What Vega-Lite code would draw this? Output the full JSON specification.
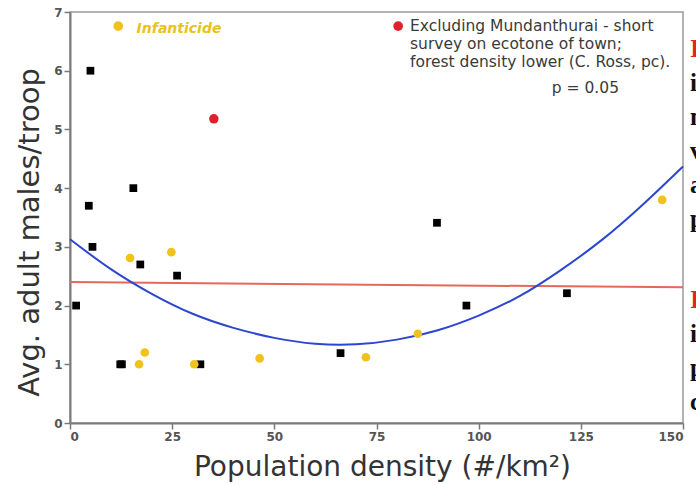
{
  "$schema": "https://vega.github.io/schema/vega-lite/v6.json",
  "width": 613,
  "height": 411,
  "autosize": {"type": "none"},
  "padding": {"left": 70, "top": 12, "right": 13, "bottom": 62},
  "background": "white",
  "config": {
    "view": {"stroke": "#9a9a9a", "strokeWidth": 1.5},
    "axis": {
      "grid": false,
      "domainColor": "#7a7a7a",
      "domainWidth": 2,
      "tickColor": "#7a7a7a",
      "tickWidth": 1.5,
      "tickSize": 6,
      "labelFont": "DejaVu Sans",
      "labelFontSize": 12,
      "labelFontWeight": "bold",
      "labelColor": "#555555",
      "labelPadding": 2,
      "titleFont": "DejaVu Sans",
      "titleFontWeight": "normal",
      "titleColor": "#333333"
    }
  },
  "datasets": {
    "points": [
      {"x": 1.5, "y": 2.0, "group": "other"},
      {"x": 5.0, "y": 6.0, "group": "other"},
      {"x": 4.6, "y": 3.7, "group": "other"},
      {"x": 5.5, "y": 3.0, "group": "other"},
      {"x": 15.5, "y": 4.0, "group": "other"},
      {"x": 17.2, "y": 2.7, "group": "other"},
      {"x": 26.2, "y": 2.51, "group": "other"},
      {"x": 12.3, "y": 1.0, "group": "other"},
      {"x": 12.7, "y": 1.0, "group": "other"},
      {"x": 31.9, "y": 1.0, "group": "other"},
      {"x": 66.2, "y": 1.19, "group": "other"},
      {"x": 89.8, "y": 3.41, "group": "other"},
      {"x": 97.0, "y": 2.0, "group": "other"},
      {"x": 121.6, "y": 2.21, "group": "other"},
      {"x": 14.7, "y": 2.81, "group": "infanticide"},
      {"x": 24.8, "y": 2.91, "group": "infanticide"},
      {"x": 16.9, "y": 1.0, "group": "infanticide"},
      {"x": 18.3, "y": 1.2, "group": "infanticide"},
      {"x": 30.4, "y": 1.0, "group": "infanticide"},
      {"x": 46.4, "y": 1.1, "group": "infanticide"},
      {"x": 72.4, "y": 1.12, "group": "infanticide"},
      {"x": 85.1, "y": 1.52, "group": "infanticide"},
      {"x": 144.9, "y": 3.8, "group": "infanticide"},
      {"x": 35.2, "y": 5.18, "group": "excluded"}
    ],
    "legendDots": [
      {"x": 11.8, "y": 6.76, "group": "infanticide"},
      {"x": 80.3, "y": 6.76, "group": "excluded"}
    ],
    "blueCurve": [
      {"x": 0, "y": 3.13},
      {"x": 10, "y": 2.62},
      {"x": 20, "y": 2.2},
      {"x": 30, "y": 1.86},
      {"x": 40, "y": 1.62},
      {"x": 50, "y": 1.45},
      {"x": 60, "y": 1.35},
      {"x": 70, "y": 1.34},
      {"x": 80, "y": 1.42},
      {"x": 90, "y": 1.58},
      {"x": 100, "y": 1.83},
      {"x": 110, "y": 2.16},
      {"x": 120, "y": 2.6},
      {"x": 130, "y": 3.11},
      {"x": 140, "y": 3.71},
      {"x": 150, "y": 4.37}
    ],
    "redLine": [
      {"x": 0, "y": 2.4},
      {"x": 150, "y": 2.31}
    ],
    "infLabel": [
      {"x": 16.3, "y": 6.65, "label": "Infanticide"}
    ],
    "notes": [
      {"x": 83.2, "y": 6.677, "label": "Excluding Mundanthurai - short"},
      {"x": 83.2, "y": 6.37, "label": "survey on ecotone of town;"},
      {"x": 83.2, "y": 6.055, "label": "forest density lower (C. Ross, pc)."},
      {"x": 117.9, "y": 5.621, "label": "p = 0.05"}
    ],
    "fragRed": [
      {"x": 151.7, "y": 6.234, "label": "I"},
      {"x": 151.7, "y": 1.959, "label": "I"}
    ],
    "fragBlack": [
      {"x": 151.7, "y": 5.655, "label": "i"},
      {"x": 151.7, "y": 5.076, "label": "n"},
      {"x": 151.7, "y": 4.497, "label": "v"},
      {"x": 151.7, "y": 3.918, "label": "a"},
      {"x": 151.7, "y": 3.338, "label": "p"},
      {"x": 151.7, "y": 1.38, "label": "i"},
      {"x": 151.7, "y": 0.801, "label": "p"},
      {"x": 151.7, "y": 0.221, "label": "c"}
    ]
  },
  "encoding": {
    "x": {
      "field": "x",
      "type": "quantitative",
      "scale": {"domain": [0, 150], "nice": false, "zero": false},
      "axis": {
        "title": "Population density (#/km²)",
        "titleFontSize": 28,
        "titlePadding": 11,
        "titleX": 312,
        "values": [0, 25, 50, 75, 100, 125, 150]
      }
    },
    "y": {
      "field": "y",
      "type": "quantitative",
      "scale": {"domain": [0, 7], "nice": false},
      "axis": {
        "title": "Avg. adult males/troop",
        "titleFontSize": 29,
        "titlePadding": 9,
        "titleY": 220,
        "values": [0, 1, 2, 3, 4, 5, 6, 7]
      }
    }
  },
  "layer": [
    {
      "data": {"name": "redLine"},
      "mark": {"type": "line", "color": "#e5685a", "strokeWidth": 2},
      "encoding": {}
    },
    {
      "data": {"name": "blueCurve"},
      "mark": {"type": "line", "color": "#2c46cf", "strokeWidth": 2, "interpolate": "natural"},
      "encoding": {}
    },
    {
      "data": {"name": "points"},
      "mark": {"type": "point", "filled": true, "opacity": 1, "strokeWidth": 0},
      "encoding": {
        "shape": {"field": "group", "type": "nominal", "scale": {"domain": ["other", "infanticide", "excluded"], "range": ["square", "circle", "circle"]}, "legend": null},
        "color": {"field": "group", "type": "nominal", "scale": {"domain": ["other", "infanticide", "excluded"], "range": ["#000000", "#f1c21b", "#e0202a"]}, "legend": null},
        "size": {"field": "group", "type": "nominal", "scale": {"domain": ["other", "infanticide", "excluded"], "range": [60, 90, 55]}, "legend": null}
      }
    },
    {
      "data": {"name": "legendDots"},
      "mark": {"type": "circle", "opacity": 1, "size": 95},
      "encoding": {
        "color": {"field": "group", "type": "nominal", "legend": null}
      }
    },
    {
      "data": {"name": "infLabel"},
      "mark": {"type": "text", "align": "left", "baseline": "alphabetic", "font": "DejaVu Sans", "fontSize": 14, "fontWeight": "bold", "fontStyle": "italic", "color": "#e9c21f"},
      "encoding": {"text": {"field": "label"}}
    },
    {
      "data": {"name": "notes"},
      "mark": {"type": "text", "align": "left", "baseline": "alphabetic", "font": "DejaVu Sans", "fontSize": 15.5, "color": "#3a3a3a"},
      "encoding": {"text": {"field": "label"}}
    },
    {
      "data": {"name": "fragRed"},
      "mark": {"type": "text", "align": "left", "baseline": "alphabetic", "font": "Liberation Serif", "fontSize": 25, "fontWeight": "bold", "color": "#e8231f"},
      "encoding": {"text": {"field": "label"}}
    },
    {
      "data": {"name": "fragBlack"},
      "mark": {"type": "text", "align": "left", "baseline": "alphabetic", "font": "Liberation Serif", "fontSize": 25, "fontWeight": "bold", "color": "#111111"},
      "encoding": {"text": {"field": "label"}}
    }
  ]
}
